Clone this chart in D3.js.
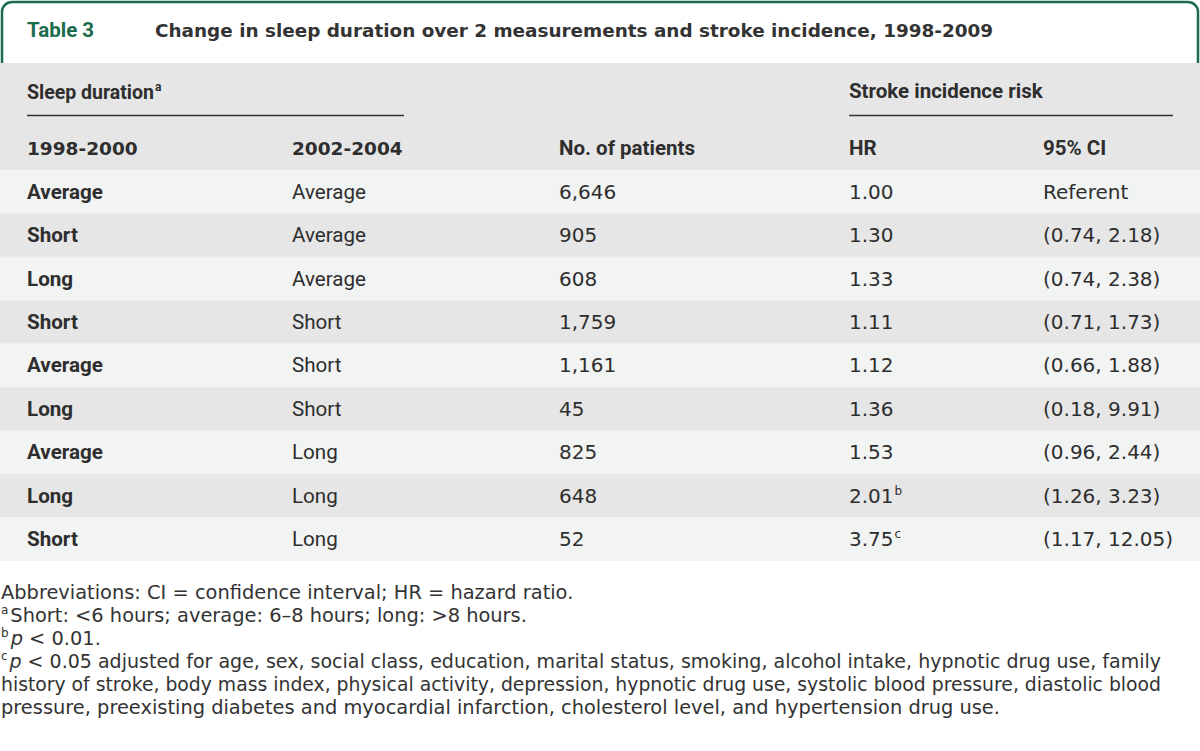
<!DOCTYPE html>
<html><head><meta charset="utf-8">
<script src="https://cdn.jsdelivr.net/npm/d3@7"></script>
<style>
html,body{margin:0;padding:0;background:#fff;}
svg{display:block;}
text{fill:#2e2e2e;}
.cond{font-family:Roboto,sans-serif;font-weight:700;}
.word{font-family:Roboto,sans-serif;}
.wide{font-family:"DejaVu Sans",sans-serif;}
</style></head><body>
<svg id="c" width="1200" height="751"></svg>
<script>
const tableLabel = "Table 3";
const title = "Change in sleep duration over 2 measurements and stroke incidence, 1998-2009";
const groupHeaders = ["Sleep duration", "Stroke incidence risk"];
const columns = ["1998-2000", "2002-2004", "No. of patients", "HR", "95% CI"];
const period1 = ["Average","Short","Long","Short","Average","Long","Average","Long","Short"];
const period2 = ["Average","Average","Average","Short","Short","Short","Long","Long","Long"];
const patients = ["6,646","905","608","1,759","1,161","45","825","648","52"];
const hr = ["1.00","1.30","1.33","1.11","1.12","1.36","1.53","2.01","3.75"];
const hrSup = ["","","","","","","","b","c"];
const ci = ["Referent","(0.74, 2.18)","(0.74, 2.38)","(0.71, 1.73)","(0.66, 1.88)","(0.18, 9.91)","(0.96, 2.44)","(1.26, 3.23)","(1.17, 12.05)"];
const footnotes = [
  [["t","Abbreviations: CI = confidence interval; HR = hazard ratio."]],
  [["s","a"],["t","Short: <6 hours; average: 6–8 hours; long: >8 hours."]],
  [["s","b"],["i","p"],["t"," < 0.01."]],
  [["s","c"],["i","p"],["t"," < 0.05 adjusted for age, sex, social class, education, marital status, smoking, alcohol intake, hypnotic drug use, family"]],
  [["t","history of stroke, body mass index, physical activity, depression, hypnotic drug use, systolic blood pressure, diastolic blood"]],
  [["t","pressure, preexisting diabetes and myocardial infarction, cholesterol level, and hypertension drug use."]]
];

const svg = d3.select("#c");
const green = "#1b6b4c";

// title tab
const tabPath = d3.path();
tabPath.moveTo(2, 64); tabPath.lineTo(2, 12); tabPath.arcTo(2, 2, 12, 2, 10);
tabPath.lineTo(1188, 2); tabPath.arcTo(1198, 2, 1198, 12, 10); tabPath.lineTo(1198, 64);
svg.append("path").attr("d", tabPath.toString()).attr("fill", "#fff").attr("stroke", green).attr("stroke-width", 2.5);
svg.append("text").attr("class", "word").attr("x", 27).attr("y", 37).attr("font-size", 20.5).attr("font-weight", 700)
  .style("fill", green).text(tableLabel);
svg.append("text").attr("class", "wide").attr("x", 155).attr("y", 37).attr("font-size", 18.4).attr("font-weight", 700)
  .style("fill", "#333").text(title);

// header background
svg.append("rect").attr("x", 0).attr("y", 63).attr("width", 1200).attr("height", 107).attr("fill", "#e6e6e6");

const colX = d3.scaleOrdinal().domain(columns).range([27, 292, 559, 849, 1043]);
const y = d3.scaleBand().domain(d3.range(period1.length)).range([170, 561]);

// group headers
svg.append("text").attr("class", "word").attr("x", 27).attr("y", 99).attr("font-size", 19.5).attr("font-weight", 700)
  .text(groupHeaders[0]).append("tspan").attr("font-size", 12).attr("dy", -8).attr("dx", 1).text("a");
svg.append("line").attr("x1", 27).attr("x2", 404).attr("y1", 115.5).attr("y2", 115.5).attr("stroke", "#333").attr("stroke-width", 1.3);
svg.append("text").attr("class", "cond").attr("x", 849).attr("y", 98).attr("font-size", 20.5).text(groupHeaders[1]);
svg.append("line").attr("x1", 849).attr("x2", 1173).attr("y1", 115.5).attr("y2", 115.5).attr("stroke", "#333").attr("stroke-width", 1.3);

svg.selectAll("text.colh").data(columns).join("text")
  .attr("class", (d, i) => i < 2 ? "colh wide" : "colh cond")
  .attr("font-weight", 700)
  .attr("x", d => colX(d)).attr("y", 155).attr("font-size", (d, i) => i < 2 ? 18.5 : 20.5).text(d => d);

// rows
const rows = svg.selectAll("g.row").data(d3.range(period1.length)).join("g").attr("class", "row")
  .attr("transform", i => `translate(0,${y(i)})`);
rows.append("rect").attr("x", 0).attr("width", 1200).attr("height", y.bandwidth())
  .attr("fill", i => i % 2 === 0 ? "#f2f3f3" : "#e6e6e6");
const ty = y.bandwidth() / 2 + 7;
rows.append("text").attr("class", "word").attr("x", colX(columns[0])).attr("y", ty).attr("font-size", 20.6).attr("font-weight", 700).text(i => period1[i]);
rows.append("text").attr("class", "word").attr("x", colX(columns[1])).attr("y", ty).attr("font-size", 20.6).text(i => period2[i]);
rows.append("text").attr("class", "wide").attr("x", colX(columns[2])).attr("y", ty).attr("font-size", 20).text(i => patients[i]);
const hrText = rows.append("text").attr("class", "wide").attr("x", colX(columns[3])).attr("y", ty).attr("font-size", 20).text(i => hr[i]);
hrText.filter(i => hrSup[i]).append("tspan").attr("font-size", 12).attr("dy", -8).attr("dx", 1).text(i => hrSup[i]);
rows.append("text").attr("class", "wide").attr("x", colX(columns[4])).attr("y", ty).attr("font-size", 20).text(i => ci[i]);

// footnotes
const fy = d3.scaleLinear().domain([0, 1]).range([599, 622]);
footnotes.forEach((parts, k) => {
  const t = svg.append("text").attr("class", "wide").attr("x", 1).attr("y", fy(k)).attr("font-size", 19.4).style("fill", "#333");
  let afterSup = false;
  parts.forEach(([kind, str]) => {
    if (kind === "s") {
      t.append("tspan").attr("font-size", 12).attr("dy", -8).text(str);
      afterSup = true;
    } else {
      const sp = t.append("tspan").text(str);
      if (kind === "i") sp.attr("font-style", "italic");
      if (afterSup) sp.attr("dy", 8).attr("dx", 2);
      afterSup = false;
    }
  });
  const w = t.node().getComputedTextLength();
  if (w > 1160) t.attr("textLength", 1160).attr("lengthAdjust", "spacingAndGlyphs");
});
</script>
</body></html>
